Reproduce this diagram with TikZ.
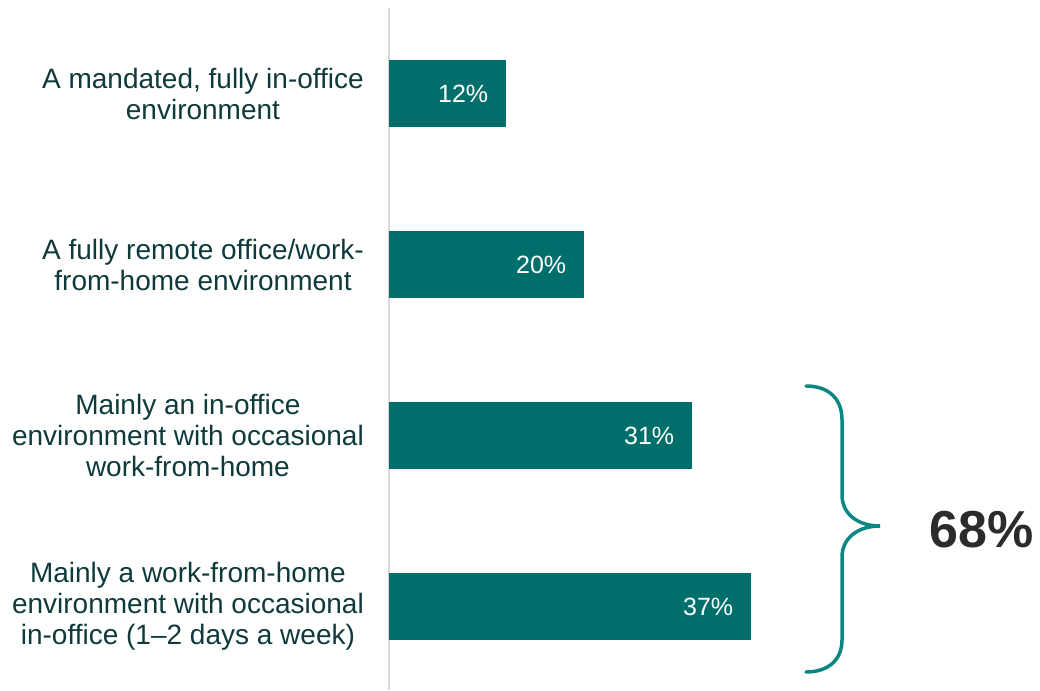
\documentclass[tikz,border=0pt]{standalone}
\usepackage{fontspec}
\setmainfont{Liberation Sans}
\usetikzlibrary{positioning}
\definecolor{barteal}{HTML}{006F6C}
\definecolor{braceteal}{HTML}{0A8782}
\definecolor{labeltext}{HTML}{0F3A3B}
\definecolor{totaltext}{HTML}{2B2B2B}
\definecolor{axisgrey}{HTML}{D9D9D9}

\begin{document}
\begin{tikzpicture}[
			x=1pt, y=-1pt,
			node distance={25pt},
			bar/.style = {fill=barteal, draw=none, anchor=west, minimum height=67pt, inner sep=0pt},
			label/.style = {align=center, text=labeltext, font=\fontsize{28}{31}\selectfont, inner sep=0pt},
			val/.style = {text=white, anchor=east, font=\fontsize{25}{28}\selectfont, inner sep=0pt},
			axis/.style = {draw=axisgrey, line width=1.5pt},
			brace/.style = {draw=braceteal, line width=3.5pt}
		]
		\useasboundingbox (0,0) rectangle (1040,690);
		% Draw the axis.
		\coordinate (axtop) at (389,8);
		\coordinate (axbot) at (389,690);
		\draw[axis] (axtop) -- (axbot);
		% Draw the bars.
		\node[bar, minimum width=117pt] (b1) at (389,93.5) {};
		\node[bar, minimum width=195pt] (b2) at (389,264.5) {};
		\node[bar, minimum width=303pt] (b3) at (389,435.5) {};
		\node[bar, minimum width=362pt] (b4) at (389,606.5) {};
		% Values inside the bars.
		\node[val] (v1) at ([xshift=-18pt]b1.east) {12\%};
		\node[val] (v2) at ([xshift=-18pt]b2.east) {20\%};
		\node[val] (v3) at ([xshift=-18pt]b3.east) {31\%};
		\node[val] (v4) at ([xshift=-18pt]b4.east) {37\%};
		% Category labels.
		\node[label] (l1) [left=of b1] {A mandated, fully in-office\\environment};
		\node[label] (l2) [left=of b2] {A fully remote office/work-\\from-home environment};
		\node[label] (l3) [left=of b3] {Mainly an in-office\\environment with occasional\\work-from-home};
		\node[label] (l4) [left=of b4] {Mainly a work-from-home\\environment with occasional\\in-office (1--2 days a week)};
		% Draw the brace and its total.
		\coordinate (bt) at (806,386);
		\coordinate (bm) at (880,526);
		\coordinate (bb) at (806,672);
		\draw[brace, line cap=round] (bt) .. controls (828,386) and (842,398) .. (842,420)
			-- (842,495) .. controls (842,514) and (858,526) .. (bm)
			.. controls (858,526) and (842,538) .. (842,557)
			-- (842,640) .. controls (842,660) and (828,672) .. (bb);
		\node[text=totaltext, font=\fontsize{52}{56}\selectfont\bfseries, anchor=west, inner sep=0pt] (tot) at (929,530) {68\%};
	\end{tikzpicture}
\end{document}
